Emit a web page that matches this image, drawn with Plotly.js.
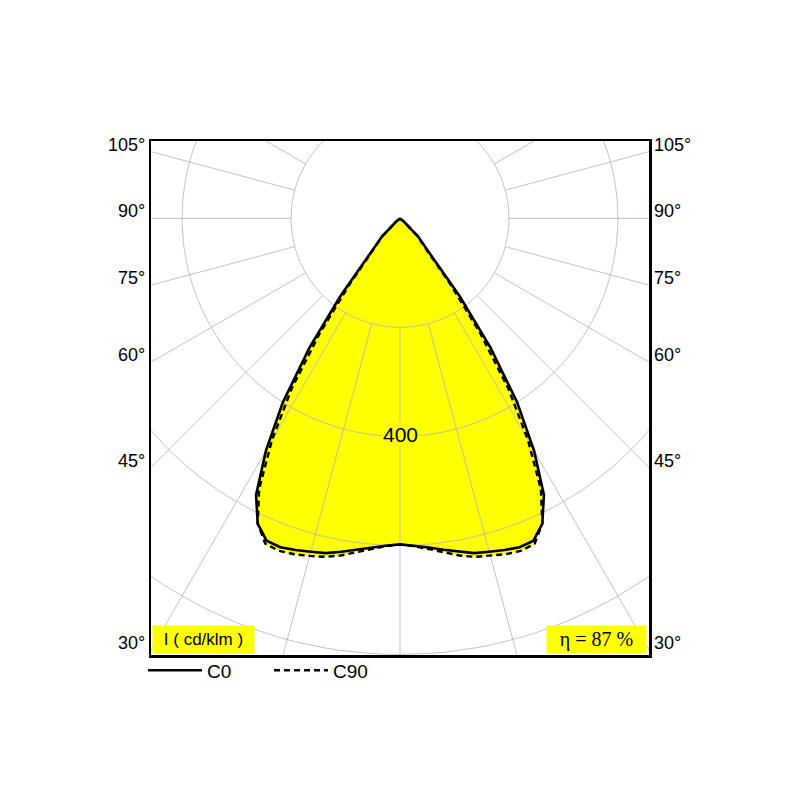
<!DOCTYPE html>
<html>
<head>
<meta charset="utf-8">
<script src="https://cdn.plot.ly/plotly-3.0.1.min.js"></script>
<style>
  html, body { margin: 0; padding: 0; background: #ffffff; }
  #plot { width: 800px; height: 800px; }
</style>
</head>
<body>
<div id="plot"></div>
<script>
'use strict';

// gamma angles (deg from nadir) and luminous intensity in cd/klm
const gammaDeg = [0, 2.5, 5, 7.5, 10, 12.5, 15, 17.5, 20, 22.5, 25, 27.5, 30, 32.5,
                  35, 37.5, 40, 42.5, 45, 50, 55, 60, 65, 70, 75, 80, 85, 90];
const intensityC0 = [598, 601, 606, 613, 621, 629, 633, 638, 642, 640, 618, 572, 492, 400,
                     290, 180, 90, 62, 46, 9, 2, 0, 0, 0, 0, 0, 0, 0];
const intensityC90 = [598, 602, 609, 618, 628, 636, 641, 646, 649, 646, 618, 560, 470, 370,
                      255, 150, 78, 58, 44, 9, 2, 0, 0, 0, 0, 0, 0, 0];

const gridCircles = [200, 400, 600, 800];
const angleLabels = [105, 90, 75, 60, 45, 30];
const circleLabel = '400';
const unitLabel = 'I ( cd/klm )';
const efficiencyLabel = 'η = 87 %';

const xRange = [-457, 457],
      yRange = [-801, 142];

const yellow = '#ffff00',
      gridColor = '#b4b4b4',
      font = "'Liberation Sans', Arial, sans-serif",
      serifFont = "'Liberation Serif', 'Times New Roman', serif";

function rad(deg) {
  return deg * Math.PI / 180;
}

function curvePoints(values) {
  // C plane drawn both sides of nadir, left half mirrored
  let x = [], y = [];
  for (let i = gammaDeg.length - 1; i >= 0; i--) {
    x.push(-values[i] * Math.sin(rad(gammaDeg[i])));
    y.push(-values[i] * Math.cos(rad(gammaDeg[i])));
  }
  for (let i = 1; i < gammaDeg.length; i++) {
    x.push(values[i] * Math.sin(rad(gammaDeg[i])));
    y.push(-values[i] * Math.cos(rad(gammaDeg[i])));
  }
  return {x: x, y: y};
}

function gridTraces() {
  let traces = [];
  gridCircles.forEach(function (r) {
    let x = [], y = [];
    for (let a = 0; a <= 360; a += 2) {
      x.push(r * Math.sin(rad(a)));
      y.push(-r * Math.cos(rad(a)));
    }
    traces.push({type: 'scatter', mode: 'lines', x: x, y: y,
      line: {color: gridColor, width: 0.8}, hoverinfo: 'skip', showlegend: false});
  });
  // radial lines every 15 deg, starting at the first circle
  let rx = [], ry = [];
  for (let a = 0; a < 360; a += 15) {
    rx.push(200 * Math.sin(rad(a)), 1200 * Math.sin(rad(a)), null);
    ry.push(-200 * Math.cos(rad(a)), -1200 * Math.cos(rad(a)), null);
  }
  traces.push({type: 'scatter', mode: 'lines', x: rx, y: ry,
    line: {color: gridColor, width: 0.8}, hoverinfo: 'skip', showlegend: false});
  return traces;
}

const c0 = curvePoints(intensityC0),
      c90 = curvePoints(intensityC90);

var fills = [c0, c90].map(function (c) {
  return {type: 'scatter', mode: 'lines', x: c.x, y: c.y, fill: 'toself',
    fillcolor: yellow, line: {width: 0, color: yellow}, hoverinfo: 'skip', showlegend: false};
});

var lines = [
  {type: 'scatter', mode: 'lines', name: 'C0', x: c0.x, y: c0.y,
   line: {color: '#000000', width: 2.6}, hoverinfo: 'skip'},
  {type: 'scatter', mode: 'lines', name: 'C90', x: c90.x, y: c90.y,
   line: {color: '#000000', width: 2.4, dash: '6px,4px'}, hoverinfo: 'skip'}
];

var annotations = [];
angleLabels.forEach(function (a) {
  let yEdge = -xRange[1] * Math.cos(rad(a)) / Math.sin(rad(a));
  [0, 1].forEach(function (side) {
    annotations.push({
      xref: 'paper', yref: 'y', x: side, y: yEdge,
      xanchor: side ? 'left' : 'right', yanchor: 'middle',
      xshift: side ? 3 : -4, yshift: 7,
      text: a + '°', showarrow: false,
      font: {family: font, size: 18, color: '#000000'}
    });
  });
});

annotations.push({
  xref: 'x', yref: 'y', x: 0, y: -gridCircles[1], text: circleLabel, showarrow: false,
  yshift: 2, bgcolor: yellow, borderpad: 0, font: {family: font, size: 21, color: '#000000'}
});
annotations.push({
  xref: 'paper', yref: 'paper', x: 0, y: 0, xanchor: 'left', yanchor: 'bottom',
  xshift: 1, yshift: 1, width: 99, height: 25, text: unitLabel, showarrow: false,
  bgcolor: yellow, font: {family: font, size: 17, color: '#000000'}
});
annotations.push({
  xref: 'paper', yref: 'paper', x: 1, y: 0, xanchor: 'right', yanchor: 'bottom',
  xshift: -2, yshift: 1, width: 97, height: 25, text: efficiencyLabel, showarrow: false,
  bgcolor: yellow, font: {family: serifFont, size: 20, color: '#000000'}
});

var axisStyle = {
  autorange: false,
  showgrid: false,
  zeroline: false,
  showticklabels: false,
  ticks: '',
  showline: true,
  mirror: true,
  linecolor: '#000000',
  linewidth: 2.5,
  fixedrange: true
};

var layout = {
  width: 800,
  height: 800,
  paper_bgcolor: '#ffffff',
  plot_bgcolor: '#ffffff',
  margin: {l: 151, r: 151, t: 141, b: 145, pad: 0},
  xaxis: Object.assign({}, axisStyle, {range: xRange}),
  yaxis: Object.assign({}, axisStyle, {range: yRange}),
  showlegend: true,
  legend: {
    orientation: 'h',
    x: -0.016, y: 0.007, xanchor: 'left', yanchor: 'top',
    entrywidth: 57, entrywidthmode: 'pixels',
    itemwidth: 54,
    bgcolor: 'rgba(0,0,0,0)',
    font: {family: font, size: 19, color: '#000000'}
  },
  annotations: annotations
};

var config = {
  responsive: false,
  displayModeBar: false,
  staticPlot: true
};

Plotly.newPlot('plot', fills.concat(gridTraces(), lines), layout, config);
</script>
</body>
</html>
